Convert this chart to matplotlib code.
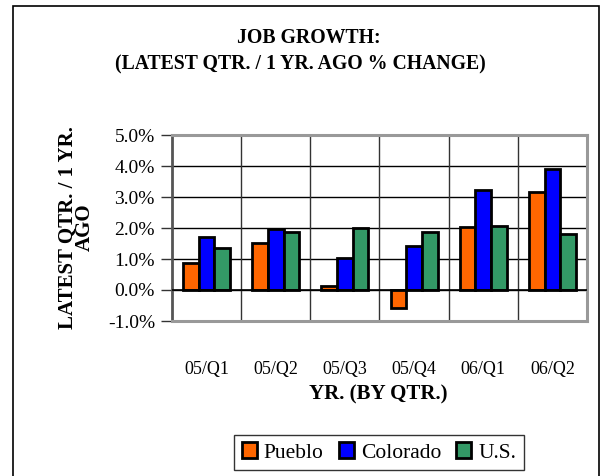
import matplotlib
matplotlib.use("Agg")
import matplotlib.pyplot as plt
from matplotlib.patches import Rectangle
import numpy as np

categories = ["05/Q1", "05/Q2", "05/Q3", "05/Q4", "06/Q1", "06/Q2"]
pueblo = [0.86, 1.52, 0.13, -0.59, 2.03, 3.16]
colorado = [1.72, 1.96, 1.04, 1.43, 3.22, 3.89]
us = [1.35, 1.88, 2.01, 1.88, 2.07, 1.81]
series_names = ["Pueblo", "Colorado", "U.S."]
series_colors = ["#FF6600", "#0000FF", "#339966"]
yticks = [-1, 0, 1, 2, 3, 4, 5]

plt.rcParams['font.family'] = ['Liberation Serif', 'DejaVu Serif']

W, H = 607, 476
fig = plt.figure(figsize=(W/100, H/100), dpi=100)
# outer chart frame (bottom edge lies below the visible picture)
fig.patches.append(Rectangle((13/W, -0.05), (599-13)/W, 1.05 - 6/H,
                             transform=fig.transFigure, fill=False,
                             edgecolor='black', linewidth=1.2))

ax_l, ax_r, ax_t, ax_b = 172, 587, 135, 321
ax = fig.add_axes([ax_l/W, 1-ax_b/H, (ax_r-ax_l)/W, (ax_b-ax_t)/H])
x = np.arange(len(categories))
w = 0.227
for k, (vals, name, col) in enumerate(zip([pueblo, colorado, us], series_names, series_colors)):
    ax.bar(x + (k-1)*w, vals, width=w, color=col, edgecolor='black',
           linewidth=2, label=name, zorder=3)

ax.set_xlim(-0.5, len(categories)-0.5)
ax.set_ylim(-1, 5)
ax.set_yticks(yticks)
ax.set_yticklabels([f"{v:.1f}%" for v in yticks], fontsize=14)
ax.set_xticks(x)
ax.set_xticklabels(categories, fontsize=13)
ax.tick_params(axis='x', length=0, pad=29)
ax.tick_params(axis='y', length=8, width=1, color='#333333', pad=4.3)

for yv in yticks[1:-1]:
    ax.axhline(yv, color='black', linewidth=1, zorder=1)
for xb in np.arange(0.5, len(categories)-0.5, 1):
    ax.axvline(xb, color='#333333', linewidth=1, zorder=1)
ax.axhline(0, color='black', linewidth=1.2, zorder=4)

for s in ['top', 'bottom', 'right']:
    ax.spines[s].set_color('#999999')
    ax.spines[s].set_linewidth(2.2)
ax.spines['left'].set_color('#555555')
ax.spines['left'].set_linewidth(2)

ax_w, ax_h = ax_r-ax_l, ax_b-ax_t
ax.set_xlabel("YR. (BY QTR.)", fontsize=15, fontweight='bold', va='center')
ax.xaxis.set_label_coords((378.5-ax_l)/ax_w, -(394-ax_b)/ax_h)
ax.set_ylabel("LATEST QTR. / 1 YR.\nAGO", fontsize=15, fontweight='bold',
              va='center', ha='center', multialignment='center', linespacing=0.8)
ax.yaxis.set_label_coords((76-ax_l)/ax_w, (ax_b-227.5)/ax_h)

fig.text(309/W, 1-38/H, "JOB GROWTH:", ha='center', va='center',
         fontsize=14.2, fontweight='bold')
fig.text(300/W, 1-64/H, "(LATEST QTR. / 1 YR. AGO % CHANGE)", ha='center',
         va='center', fontsize=14.2, fontweight='bold')

leg = fig.legend(loc='center', bbox_to_anchor=(379/W, 1-452.5/H), ncol=3,
                 fontsize=15.5, frameon=True, fancybox=False, edgecolor='black',
                 handlelength=0.7, handleheight=0.7, handletextpad=0.33,
                 columnspacing=0.7, borderpad=0.35, borderaxespad=0)
leg.get_frame().set_linewidth(1)

fig.savefig("out.png", dpi=100)
